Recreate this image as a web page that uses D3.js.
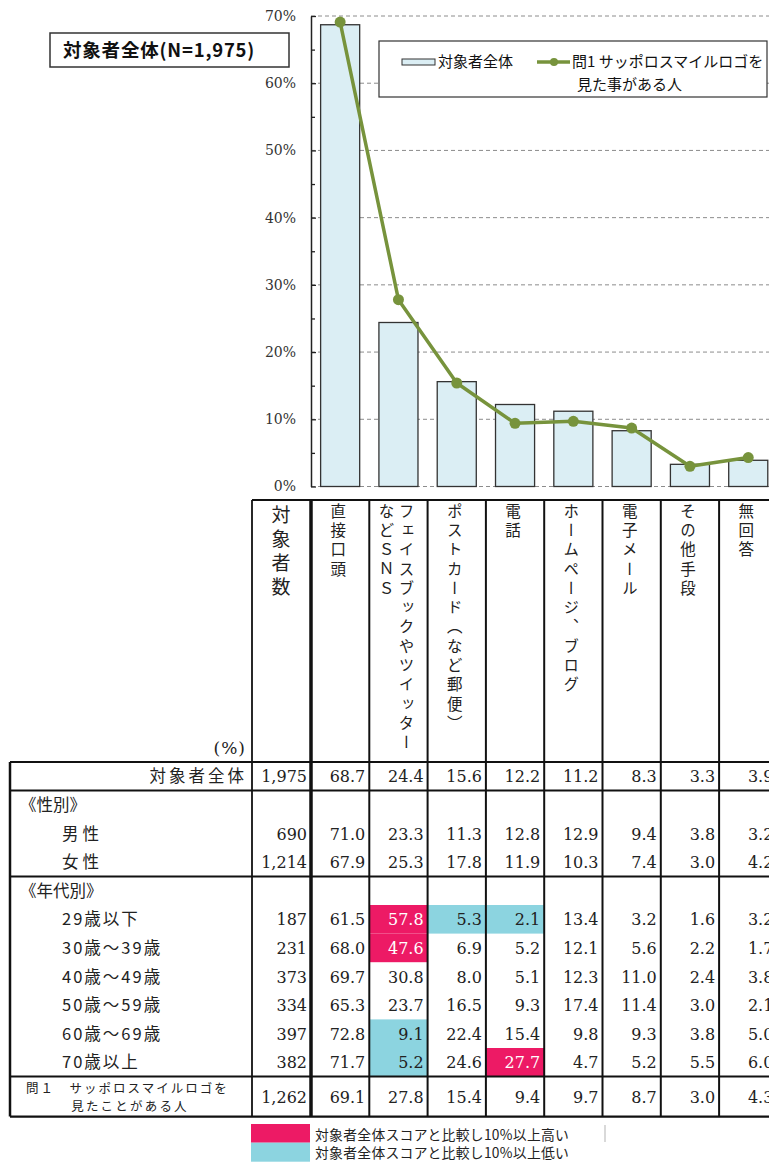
<!DOCTYPE html>
<html>
<head>
<meta charset="utf-8">
<script src="https://cdn.jsdelivr.net/npm/d3@7"></script>
<style>
    body { margin: 0; background: #ffffff; }
    svg { display: block; }
</style>
</head>
<body>
<svg id="chart"></svg>
<script>
const width = 769, height = 1162

// ---- data ----
const categories = ["直接口頭", "フェイスブックやツイッターなどＳＮＳ", "ポストカード（など郵便）", "電話",
    "ホームページ、ブログ", "電子メール", "その他手段", "無回答"]
const headerLines = [["直接口頭"], ["フェイスブックやツイッター", "などＳＮＳ"], ["ポストカード（など郵便）"], ["電話"],
    ["ホームページ、ブログ"], ["電子メール"], ["その他手段"], ["無回答"]]
const totalValues = [68.7, 24.4, 15.6, 12.2, 11.2, 8.3, 3.3, 3.9]
const logoValues = [69.1, 27.8, 15.4, 9.4, 9.7, 8.7, 3.0, 4.3]
const yTicks = [0, 10, 20, 30, 40, 50, 60, 70]
const yMinorTicks = [5, 15, 25, 35, 45, 55, 65]

const genderLabels = ["男性", "女性"]
const genderCounts = [690, 1214]
const genderValues = [
    [71.0, 23.3, 11.3, 12.8, 12.9, 9.4, 3.8, 3.2],
    [67.9, 25.3, 17.8, 11.9, 10.3, 7.4, 3.0, 4.2],
]
const ageLabels = ["29歳以下", "30歳～39歳", "40歳～49歳", "50歳～59歳", "60歳～69歳", "70歳以上"]
const ageCounts = [187, 231, 373, 334, 397, 382]
const ageValues = [
    [61.5, 57.8, 5.3, 2.1, 13.4, 3.2, 1.6, 3.2],
    [68.0, 47.6, 6.9, 5.2, 12.1, 5.6, 2.2, 1.7],
    [69.7, 30.8, 8.0, 5.1, 12.3, 11.0, 2.4, 3.8],
    [65.3, 23.7, 16.5, 9.3, 17.4, 11.4, 3.0, 2.1],
    [72.8, 9.1, 22.4, 15.4, 9.8, 9.3, 3.8, 5.0],
    [71.7, 5.2, 24.6, 27.7, 4.7, 5.2, 5.5, 6.0],
]
const totalCount = 1975
const logoCount = 1262

const jp = "'Noto Sans CJK JP', 'Noto Sans', sans-serif"
const num = "'DejaVu Serif', 'Liberation Serif', serif"
const barFill = "#dbeef4"
const lineColor = "#77933c"
const highColor = "#ed1a65"
const lowColor = "#8cd4e0"

const svg = d3.select("svg#chart")
    .attr("width", width)
    .attr("height", height)
    .attr("viewBox", [0, 0, width, height])

// ---- scales ----
const plot = { left: 311, right: 777.4, top: 16, bottom: 486.5 }

const xScale = d3.scaleBand()
    .domain(categories)
    .range([plot.left, plot.right])
    .paddingInner(0.33)
    .paddingOuter(0.165)

const colScale = d3.scaleBand()
    .domain(categories)
    .range([plot.left, plot.right])

const yScale = d3.scaleLinear()
    .domain([0, 70])
    .range([plot.bottom, plot.top])

// gridlines
svg.append("g")
    .selectAll("line")
    .data(yTicks)
    .join("line")
    .attr("x1", plot.left)
    .attr("x2", width)
    .attr("y1", d => yScale(d))
    .attr("y2", d => yScale(d))
    .attr("stroke", "#8c8c8c")
    .attr("stroke-width", 1)
    .attr("stroke-dasharray", "4,3")

// bars
svg.append("g")
    .selectAll("rect")
    .data(totalValues)
    .join("rect")
    .attr("x", (d, i) => xScale(categories[i]))
    .attr("width", xScale.bandwidth())
    .attr("y", d => yScale(d))
    .attr("height", d => yScale(0) - yScale(d))
    .attr("fill", barFill)
    .attr("stroke", "#333")
    .attr("stroke-width", 1.3)

// axis
const yAxis = svg.append("g")
    .attr("transform", `translate(${plot.left}, 0)`)
    .call(d3.axisLeft(yScale).tickValues(yTicks).tickSize(-5).tickSizeOuter(0)
        .tickPadding(15).tickFormat(d => d + "%"))
yAxis.select(".domain").attr("stroke", "#222").attr("stroke-width", 1.5)
yAxis.selectAll(".tick line").attr("stroke", "#222").attr("stroke-width", 1.3)
yAxis.selectAll("text")
    .attr("font-family", num)
    .attr("font-size", 14)
    .attr("fill", "#333")

svg.append("g")
    .attr("transform", `translate(${plot.left}, 0)`)
    .call(d3.axisLeft(yScale).tickValues(yMinorTicks).tickSize(-4).tickFormat(""))
    .call(g => g.select(".domain").remove())
    .selectAll(".tick line").attr("stroke", "#222").attr("stroke-width", 1.3)

// line
const line = d3.line()
    .x((d, i) => xScale(categories[i]) + xScale.bandwidth() / 2)
    .y(d => yScale(d))

svg.append("path")
    .datum(logoValues)
    .attr("d", line)
    .attr("fill", "none")
    .attr("stroke", lineColor)
    .attr("stroke-width", 3.5)
    .attr("stroke-linejoin", "round")

svg.append("g")
    .selectAll("circle")
    .data(logoValues)
    .join("circle")
    .attr("cx", (d, i) => xScale(categories[i]) + xScale.bandwidth() / 2)
    .attr("cy", d => yScale(d))
    .attr("r", 5.5)
    .attr("fill", lineColor)

// title box
svg.append("rect")
    .attr("x", 50).attr("y", 33).attr("width", 239).attr("height", 34)
    .attr("fill", "#fff").attr("stroke", "#333").attr("stroke-width", 1.5)
svg.append("text")
    .attr("x", 63).attr("y", 57)
    .attr("font-family", jp).attr("font-size", 18.5).attr("font-weight", "bold")
    .attr("letter-spacing", 0.8)
    .attr("fill", "#111")
    .text("対象者全体(N=1,975)")

// legend
const legend = svg.append("g").attr("font-family", jp).attr("font-size", 15).attr("fill", "#111")
legend.append("rect")
    .attr("x", 379).attr("y", 41).attr("width", 388).attr("height", 56)
    .attr("fill", "#fff").attr("stroke", "#333").attr("stroke-width", 1.2)
legend.append("rect")
    .attr("x", 402).attr("y", 59).attr("width", 33).attr("height", 6)
    .attr("fill", barFill).attr("stroke", "#333").attr("stroke-width", 1)
legend.append("text").attr("x", 438).attr("y", 67).text("対象者全体")
legend.append("line")
    .attr("x1", 537).attr("x2", 570).attr("y1", 62).attr("y2", 62)
    .attr("stroke", lineColor).attr("stroke-width", 3.5)
legend.append("circle").attr("cx", 554).attr("cy", 62).attr("r", 4).attr("fill", lineColor)
legend.append("text").attr("x", 572).attr("y", 67).text("問1 サッポロスマイルロゴを")
legend.append("text").attr("x", 577).attr("y", 90).text("見た事がある人")

// ---- table ----
const table = { left: 10, labelRight: 252, headTop: 500, bodyTop: 762, rowH: 28.6, lastH: 40 }
const colRight = d => colScale(d) + colScale.bandwidth()

// rows layout
const rows = []
let yy = table.bodyTop
rows.push({ kind: "total", label: "対象者全体", count: totalCount, values: totalValues, y: yy }); yy += table.rowH
const genderTop = yy
rows.push({ kind: "section", label: "《性別》", y: yy }); yy += table.rowH
genderLabels.forEach((l, i) => { rows.push({ kind: "gender", label: l, count: genderCounts[i], values: genderValues[i], y: yy }); yy += table.rowH })
const ageTop = yy
rows.push({ kind: "section", label: "《年代別》", y: yy }); yy += table.rowH
ageLabels.forEach((l, i) => { rows.push({ kind: "age", label: l, count: ageCounts[i], values: ageValues[i], y: yy }); yy += table.rowH })
const logoTop = yy
rows.push({ kind: "logo", count: logoCount, values: logoValues, y: yy, h: table.lastH })
const tableBottom = yy + table.lastH

// highlight cells (age rows, ±10pt vs total)
const cells = []
rows.filter(r => r.kind === "age").forEach(r => {
    r.values.forEach((v, i) => {
        const diff = v - totalValues[i]
        if (diff >= 10) cells.push({ r, i, fill: highColor, text: "#fff" })
        else if (diff <= -10) cells.push({ r, i, fill: lowColor, text: "#222" })
    })
})

svg.append("g")
    .selectAll("rect")
    .data(cells)
    .join("rect")
    .attr("x", d => colScale(categories[d.i]))
    .attr("y", d => d.r.y)
    .attr("width", colScale.bandwidth())
    .attr("height", table.rowH)
    .attr("fill", d => d.fill)

// header texts
const head = svg.append("g").attr("font-family", jp).attr("fill", "#222")
head.append("text")
    .attr("x", 281).attr("y", 505)
    .style("writing-mode", "vertical-rl")
    .attr("font-size", 19)
    .attr("letter-spacing", 5)
    .text("対象者数")

headerLines.forEach((lines, i) => {
    const cx = colScale(categories[i]) + colScale.bandwidth() / 2 - 2
    lines.forEach((t, j) => {
        head.append("text")
            .attr("x", cx + ((lines.length - 1) / 2 - j) * 20)
            .attr("y", 503)
            .style("writing-mode", "vertical-rl")
            .attr("font-size", 15.5)
            .attr("letter-spacing", 3.8)
            .text(t)
    })
})
head.append("text")
    .attr("x", 246).attr("y", 754)
    .attr("text-anchor", "end")
    .attr("font-family", num).attr("font-size", 17)
    .attr("letter-spacing", 1)
    .text("(%)")

// labels
const labels = svg.append("g").attr("font-family", jp).attr("fill", "#222").attr("font-size", 16.5)
rows.forEach(r => {
    const cy = r.y + table.rowH / 2 + 6
    if (r.kind === "total") {
        labels.append("text").attr("x", 247).attr("y", cy).attr("text-anchor", "end")
            .attr("letter-spacing", 3).text(r.label)
    } else if (r.kind === "section") {
        labels.append("text").attr("x", 20).attr("y", cy).text(r.label)
    } else if (r.kind === "gender") {
        labels.append("text").attr("x", 62).attr("y", cy).attr("letter-spacing", 4).text(r.label)
    } else if (r.kind === "age") {
        labels.append("text").attr("x", 62).attr("y", cy).attr("letter-spacing", 2).text(r.label)
    } else {
        labels.append("text").attr("x", 26).attr("y", r.y + 16).attr("font-size", 12.5)
            .attr("letter-spacing", 2).text("問１　サッポロスマイルロゴを")
        labels.append("text").attr("x", 130).attr("y", r.y + 34).attr("font-size", 12.5)
            .attr("text-anchor", "middle").attr("letter-spacing", 2.2).text("見たことがある人")
    }
})

// numbers
const nums = svg.append("g").attr("font-family", num).attr("font-size", 16).attr("text-anchor", "end")
const fmtCount = d3.format(",")
rows.filter(r => r.values).forEach(r => {
    const h = r.h || table.rowH
    const cy = r.y + h / 2 + 6
    nums.append("text").attr("x", plot.left - 4).attr("y", cy).attr("fill", "#222").text(fmtCount(r.count))
    r.values.forEach((v, i) => {
        const c = cells.find(d => d.r === r && d.i === i)
        nums.append("text")
            .attr("x", colRight(categories[i]) - 4)
            .attr("y", cy)
            .attr("fill", c ? c.text : "#222")
            .text(v.toFixed(1))
    })
})

// table borders
const borders = svg.append("g").attr("stroke", "#111").attr("fill", "none")
const hLine = (x1, x2, y, w) => borders.append("line").attr("x1", x1).attr("x2", x2).attr("y1", y).attr("y2", y).attr("stroke-width", w)
const vLine = (x, y1, y2, w) => borders.append("line").attr("x1", x).attr("x2", x).attr("y1", y1).attr("y2", y2).attr("stroke-width", w)

hLine(table.labelRight, width, table.headTop, 2)
hLine(table.left, width, table.bodyTop, 2.2)
hLine(table.left, width, genderTop, 2)
hLine(table.left, width, ageTop, 2)
hLine(table.left, width, logoTop, 2)
hLine(table.left, width, tableBottom, 2.2)

vLine(table.left, table.bodyTop, tableBottom, 2.5)
vLine(table.labelRight, table.headTop, tableBottom, 1.8)
vLine(plot.left, table.headTop, tableBottom, 3.5)
categories.forEach(c => vLine(colRight(c), table.headTop, tableBottom, 2))

// bottom legend
const key = svg.append("g").attr("font-family", jp).attr("font-size", 13.8).attr("fill", "#222")
key.append("rect").attr("x", 251).attr("y", 1124).attr("width", 59).attr("height", 18.7).attr("fill", highColor)
key.append("rect").attr("x", 251).attr("y", 1142.7).attr("width", 59).attr("height", 19).attr("fill", lowColor)
key.append("text").attr("x", 315).attr("y", 1139.5).attr("letter-spacing", 0.3).text("対象者全体スコアと比較し10%以上高い")
key.append("text").attr("x", 315).attr("y", 1158).attr("letter-spacing", 0.3).text("対象者全体スコアと比較し10%以上低い")
key.append("line").attr("x1", 605).attr("x2", 605).attr("y1", 1125).attr("y2", 1142)
    .attr("stroke", "#ccc").attr("stroke-width", 1.5)
</script>
</body>
</html>
